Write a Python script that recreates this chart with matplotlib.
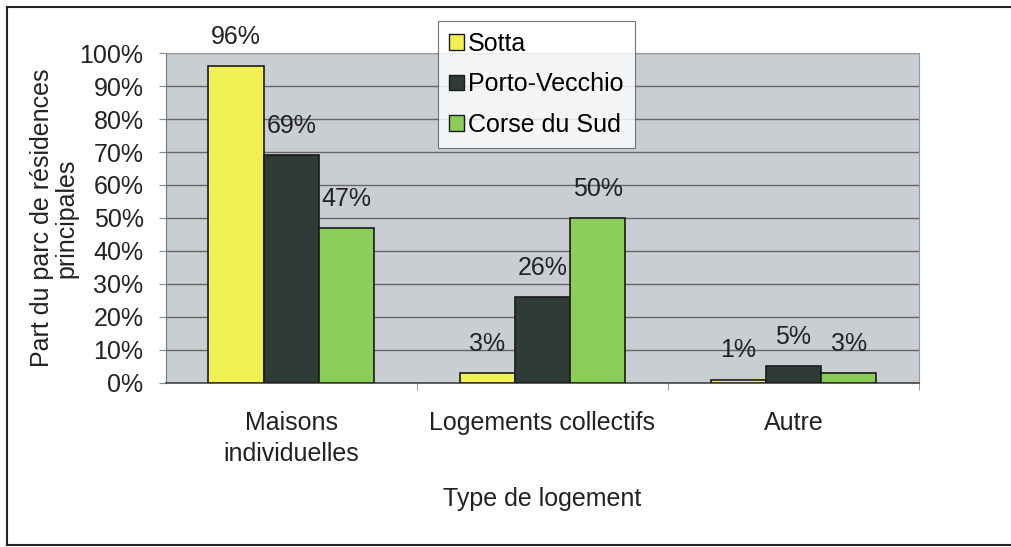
import numpy as np
import matplotlib
matplotlib.use("Agg")
import matplotlib.pyplot as plt
from matplotlib.lines import Line2D

plt.rcParams['font.family'] = ['Liberation Sans', 'DejaVu Sans']

# data
categories = ['Maisons\nindividuelles', 'Logements collectifs', 'Autre']
series = ['Sotta', 'Porto-Vecchio', 'Corse du Sud']
sotta = [96, 3, 1]
porto_vecchio = [69, 26, 5]
corse_du_sud = [47, 50, 3]
y_ticks = [0, 10, 20, 30, 40, 50, 60, 70, 80, 90, 100]

colors = ['#f0f050', '#2f3b37', '#8ccd5a']
values = [sotta, porto_vecchio, corse_du_sud]
fs = 18

fig = plt.figure(figsize=(10.11, 5.47), dpi=100)
ax = fig.add_axes([0.164, 0.300, 0.745, 0.603])
ax.set_facecolor('#c9ced3')

x = np.arange(len(categories))
w = 0.22
for i, (name, vals, c) in enumerate(zip(series, values, colors)):
    pos = x + (i - 1) * w
    ax.bar(pos, vals, width=w, color=c, edgecolor='#1a1a1a',
           linewidth=1.2, label=name, zorder=3)
    for xp, v in zip(pos, vals):
        ax.annotate(f'{v}%', (xp, v), xytext=(0, 21), textcoords='offset points',
                    ha='center', va='center', fontsize=fs, color='#222222', zorder=4)

ax.set_xlim(-0.5, 2.5)
ax.set_ylim(0, 100)
ax.set_yticks(y_ticks)
ax.set_yticklabels([f'{t}%' for t in y_ticks], fontsize=fs, color='#222222')
ax.yaxis.grid(True, color='#666666', linewidth=1.0, zorder=0)
ax.set_xticks(x)
ax.set_xticklabels(categories, fontsize=fs, color='#222222', linespacing=1.4)
ax.set_xticks([0.5, 1.5, 2.5], minor=True)
ax.tick_params(axis='x', which='major', length=0, pad=20)
ax.tick_params(axis='x', which='minor', length=5, color='#888888')
ax.tick_params(axis='y', length=5, color='#888888', pad=11)

for s in ['top', 'right']:
    ax.spines[s].set_color('#999999')
    ax.spines[s].set_linewidth(0.8)
ax.spines['left'].set_color('#777777')
ax.spines['bottom'].set_color('#444444')
ax.spines['bottom'].set_linewidth(1.2)

ax.set_xlabel('Type de logement', fontsize=fs, color='#222222', labelpad=15)
ax.set_ylabel('Part du parc de résidences\nprincipales', fontsize=fs,
              color='#222222', labelpad=1, linespacing=1.0)

leg = ax.legend(loc='upper left', bbox_to_anchor=(0.433, 0.962),
                bbox_transform=fig.transFigure, fontsize=fs, frameon=True,
                fancybox=False, edgecolor='#555555', handlelength=0.6,
                handleheight=0.6, handletextpad=0.15, labelspacing=0.65,
                borderpad=0.45, borderaxespad=0)
leg.get_frame().set_linewidth(0.8)
for h in leg.legend_handles:
    h.set_linewidth(1.0)

# outer frame (left, top, bottom visible)
fig.add_artist(Line2D([0.007, 1.0], [0.987, 0.987], transform=fig.transFigure, color='#222222', lw=1.5))
fig.add_artist(Line2D([0.007, 0.007], [0.987, 0.003], transform=fig.transFigure, color='#222222', lw=1.5))
fig.add_artist(Line2D([0.007, 1.0], [0.003, 0.003], transform=fig.transFigure, color='#222222', lw=1.5))

fig.savefig('out.png', dpi=100)
